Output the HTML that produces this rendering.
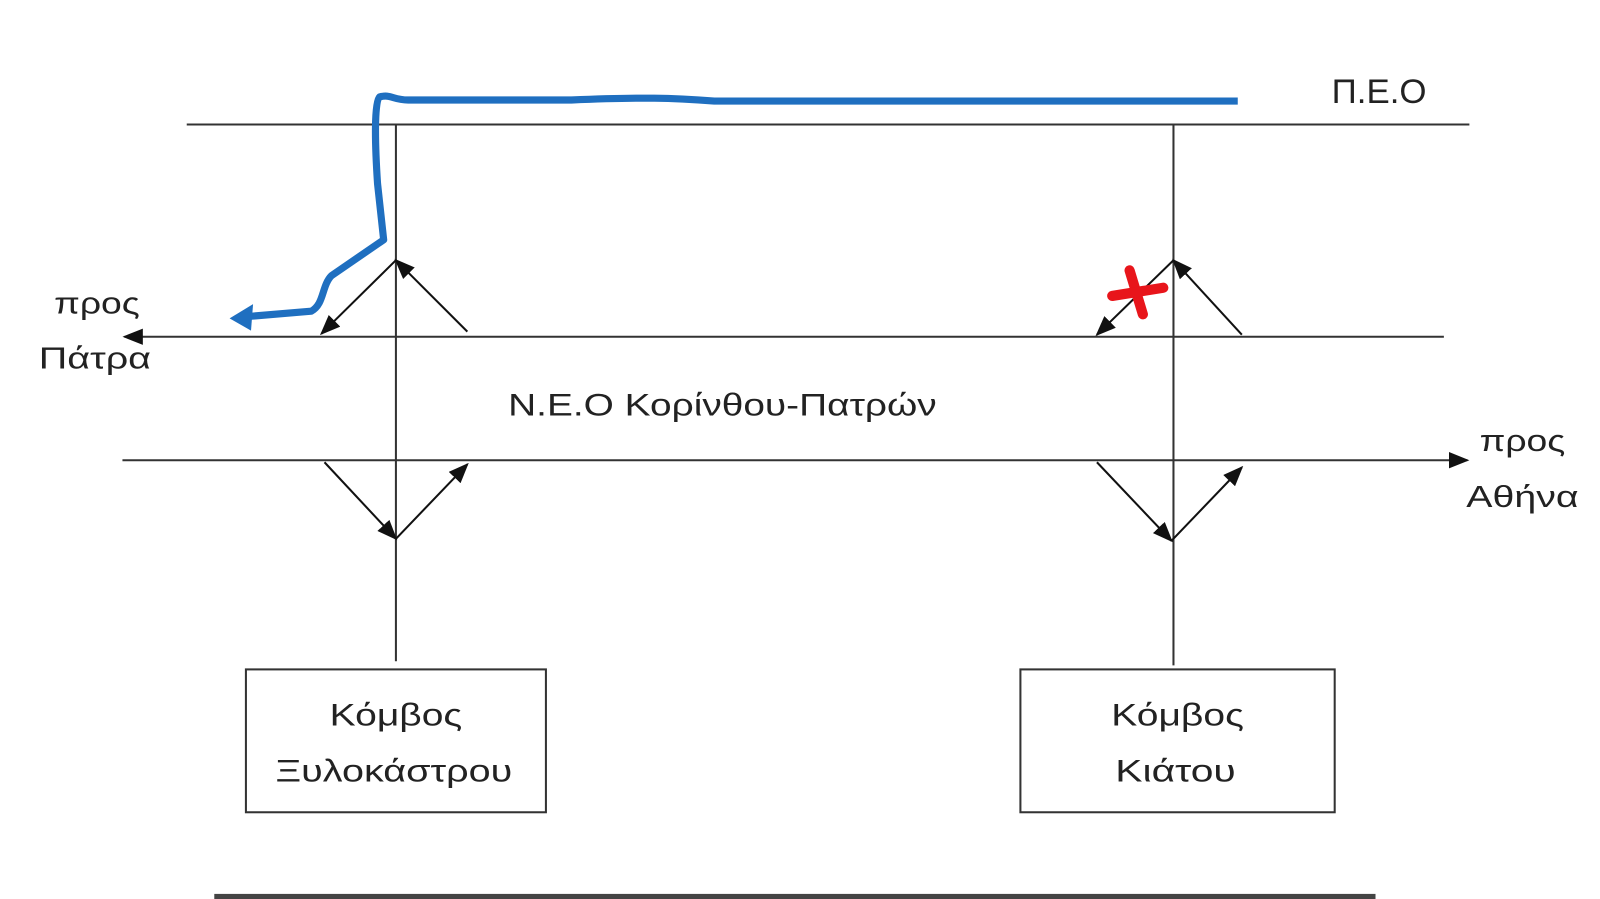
<!DOCTYPE html>
<html><head><meta charset="utf-8"><style>
html,body{margin:0;padding:0;background:#fff;width:1600px;height:899px;overflow:hidden}
svg{display:block}
text{font-family:"Liberation Sans","DejaVu Sans",sans-serif;fill:#222}
</style></head><body>
<svg width="1600" height="899" viewBox="0 0 1568 881" preserveAspectRatio="none">
<defs>
<marker id="b" markerWidth="20" markerHeight="16" refX="18" refY="8" orient="auto" markerUnits="userSpaceOnUse" viewBox="0 0 20 16">
<path d="M0,0 L20,8 L0,16 z" fill="#111"/></marker>
</defs>
<g stroke="#333" stroke-width="2" fill="none">
<line x1="183" y1="122" x2="1440" y2="122"/>
<line x1="1415" y1="330" x2="122" y2="330" marker-end="url(#b)"/>
<line x1="120" y1="451" x2="1438" y2="451" marker-end="url(#b)"/>
<line x1="388" y1="122" x2="388" y2="648"/>
<line x1="1150" y1="122" x2="1150" y2="652"/>
</g>
<g stroke="#111" stroke-width="2" fill="none">
<line x1="458" y1="325" x2="388" y2="255" marker-end="url(#b)"/>
<line x1="388" y1="255" x2="315" y2="327" marker-end="url(#b)"/>
<line x1="1217" y1="328" x2="1150" y2="255" marker-end="url(#b)"/>
<line x1="1150" y1="255" x2="1075" y2="328" marker-end="url(#b)"/>
<line x1="318" y1="453" x2="388" y2="528" marker-end="url(#b)"/>
<line x1="388" y1="528" x2="458" y2="455" marker-end="url(#b)"/>
<line x1="1075" y1="453" x2="1148" y2="530" marker-end="url(#b)"/>
<line x1="1148" y1="530" x2="1217" y2="458" marker-end="url(#b)"/>
</g>
<path d="M1213,99 L700,99 C660,96 630,95 560,98 L400,98 C385,98 383,92 372,95 C366,100 368,150 370,180 L376,235 L325,270 C315,280 318,298 305,305 L245,310" stroke="#1f6fc0" stroke-width="7" fill="none" stroke-linejoin="round"/>
<path d="M225,312 L248,298 L246,324 z" fill="#1f6fc0"/>
<g stroke="#e8151b" stroke-width="10" stroke-linecap="round">
<line x1="1107" y1="265" x2="1120" y2="308"/>
<line x1="1090" y1="290" x2="1140" y2="282"/>
</g>
<text x="1305" y="101" font-size="34" textLength="93" lengthAdjust="spacingAndGlyphs">Π.Ε.Ο</text>
<text x="498" y="407" font-size="31" textLength="420" lengthAdjust="spacingAndGlyphs">Ν.Ε.Ο Κορίνθου-Πατρών</text>
<text x="53" y="307" font-size="30" textLength="84" lengthAdjust="spacingAndGlyphs">προς</text>
<text x="38" y="361" font-size="30" textLength="110" lengthAdjust="spacingAndGlyphs">Πάτρα</text>
<text x="1450" y="442" font-size="30" textLength="84" lengthAdjust="spacingAndGlyphs">προς</text>
<text x="1437" y="497" font-size="30" textLength="110" lengthAdjust="spacingAndGlyphs">Αθήνα</text>
<rect x="241" y="656" width="294" height="140" fill="#fff" stroke="#333" stroke-width="2"/>
<rect x="1000" y="656" width="308" height="140" fill="#fff" stroke="#333" stroke-width="2"/>
<text x="323" y="711" font-size="31" textLength="130" lengthAdjust="spacingAndGlyphs">Κόμβος</text>
<text x="270" y="766" font-size="31" textLength="232" lengthAdjust="spacingAndGlyphs">Ξυλοκάστρου</text>
<text x="1089" y="711" font-size="31" textLength="130" lengthAdjust="spacingAndGlyphs">Κόμβος</text>
<text x="1093" y="766" font-size="31" textLength="118" lengthAdjust="spacingAndGlyphs">Κιάτου</text>
<rect x="210" y="876" width="1138" height="6" fill="#444"/>
</svg>
</body></html>
